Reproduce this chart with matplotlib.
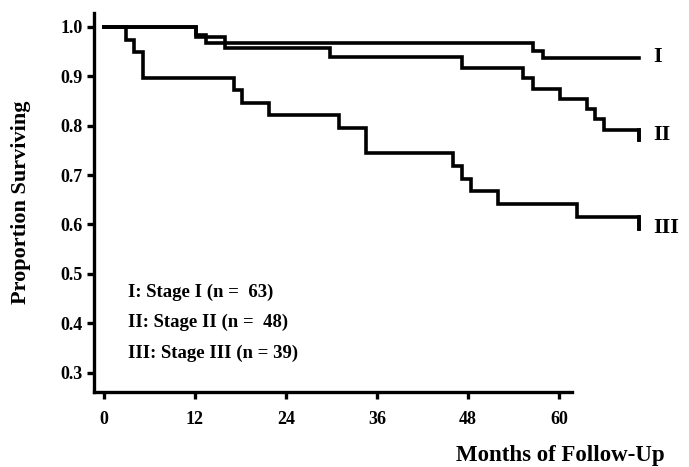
import matplotlib
matplotlib.use("Agg")
import matplotlib.pyplot as plt

# ---- data (months, survival proportion) ----
stage1_t = [0, 12.2, 13.5, 56.6, 57.9, 70.6]
stage1_s = [1.0, 0.984, 0.968, 0.952, 0.937, 0.937]

stage2_t = [0, 12.2, 16.0, 29.8, 47.2, 55.3, 56.6, 60.2, 63.7, 64.8, 65.9, 70.6]
stage2_s = [1.0, 0.979, 0.958, 0.938, 0.917, 0.896, 0.875, 0.854, 0.833, 0.813, 0.792, 0.771]

stage3_t = [0, 2.9, 4.0, 5.2, 17.1, 18.2, 21.8, 31.0, 34.5, 46.0, 47.2, 48.4, 52.0, 62.4, 70.6]
stage3_s = [1.0, 0.974, 0.949, 0.897, 0.872, 0.846, 0.821, 0.795, 0.744, 0.718, 0.692, 0.667, 0.641, 0.615, 0.590]

curve_labels = ["I", "II", "III"]
curve_label_y = [0.939, 0.781, 0.593]
legend_lines = ["I: Stage I (n =  63)", "II: Stage II (n =  48)", "III: Stage III (n = 39)"]
legend_y = [0.462, 0.401, 0.340]
xticks = [0, 12, 24, 36, 48, 60]
yticks = [0.3, 0.4, 0.5, 0.6, 0.7, 0.8, 0.9, 1.0]

plt.rcParams['font.family'] = ['Liberation Serif', 'DejaVu Serif']
plt.rcParams['font.weight'] = 'bold'

fig = plt.figure(figsize=(6.89, 4.67), dpi=100)
ax = fig.add_axes([94/689, 75/467, 551/689, 379/467])
ax.set_xlim(-1.32, 71.37)
ax.set_ylim(0.261, 1.028)

lw = 2.6
for t, s, lab, ly in zip([stage1_t, stage2_t, stage3_t], [stage1_s, stage2_s, stage3_s],
                         curve_labels, curve_label_y):
    ax.step(t, s, where='post', color='black', lw=lw, solid_joinstyle='miter', clip_on=False)
    ax.plot([t[-1], t[-1]], [s[-2], s[-1]], color='black', lw=lw, clip_on=False)
    ax.text(t[-1] + 1.8, ly, lab, ha='left', va='center',
            fontsize=16, fontweight='bold', clip_on=False)

for spine in ['top', 'right']:
    ax.spines[spine].set_visible(False)
for spine in ['left', 'bottom']:
    ax.spines[spine].set_linewidth(2.4)
ax.spines['bottom'].set_bounds(-1.32, 61.8)

ax.set_xticks(xticks)
ax.set_xticklabels([str(v) for v in xticks])
ax.set_yticks(yticks)
ax.set_yticklabels([f"{v:.1f}" for v in yticks])
ax.tick_params(axis='both', direction='out', length=5, width=2.4, labelsize=13)
ax.tick_params(axis='x', pad=9)
ax.tick_params(axis='y', pad=3)

ax.set_ylabel("Proportion Surviving", fontsize=16, fontweight='bold', labelpad=21)
fig.text(665/689, 1 - 455/467, "Months of Follow-Up", ha='right', va='center',
         fontsize=16.5, fontweight='bold')

for line, yv in zip(legend_lines, legend_y):
    ax.text(3.2, yv, line, ha='left', va='center', fontsize=13.5, fontweight='bold')

fig.savefig("out.png", dpi=100)
